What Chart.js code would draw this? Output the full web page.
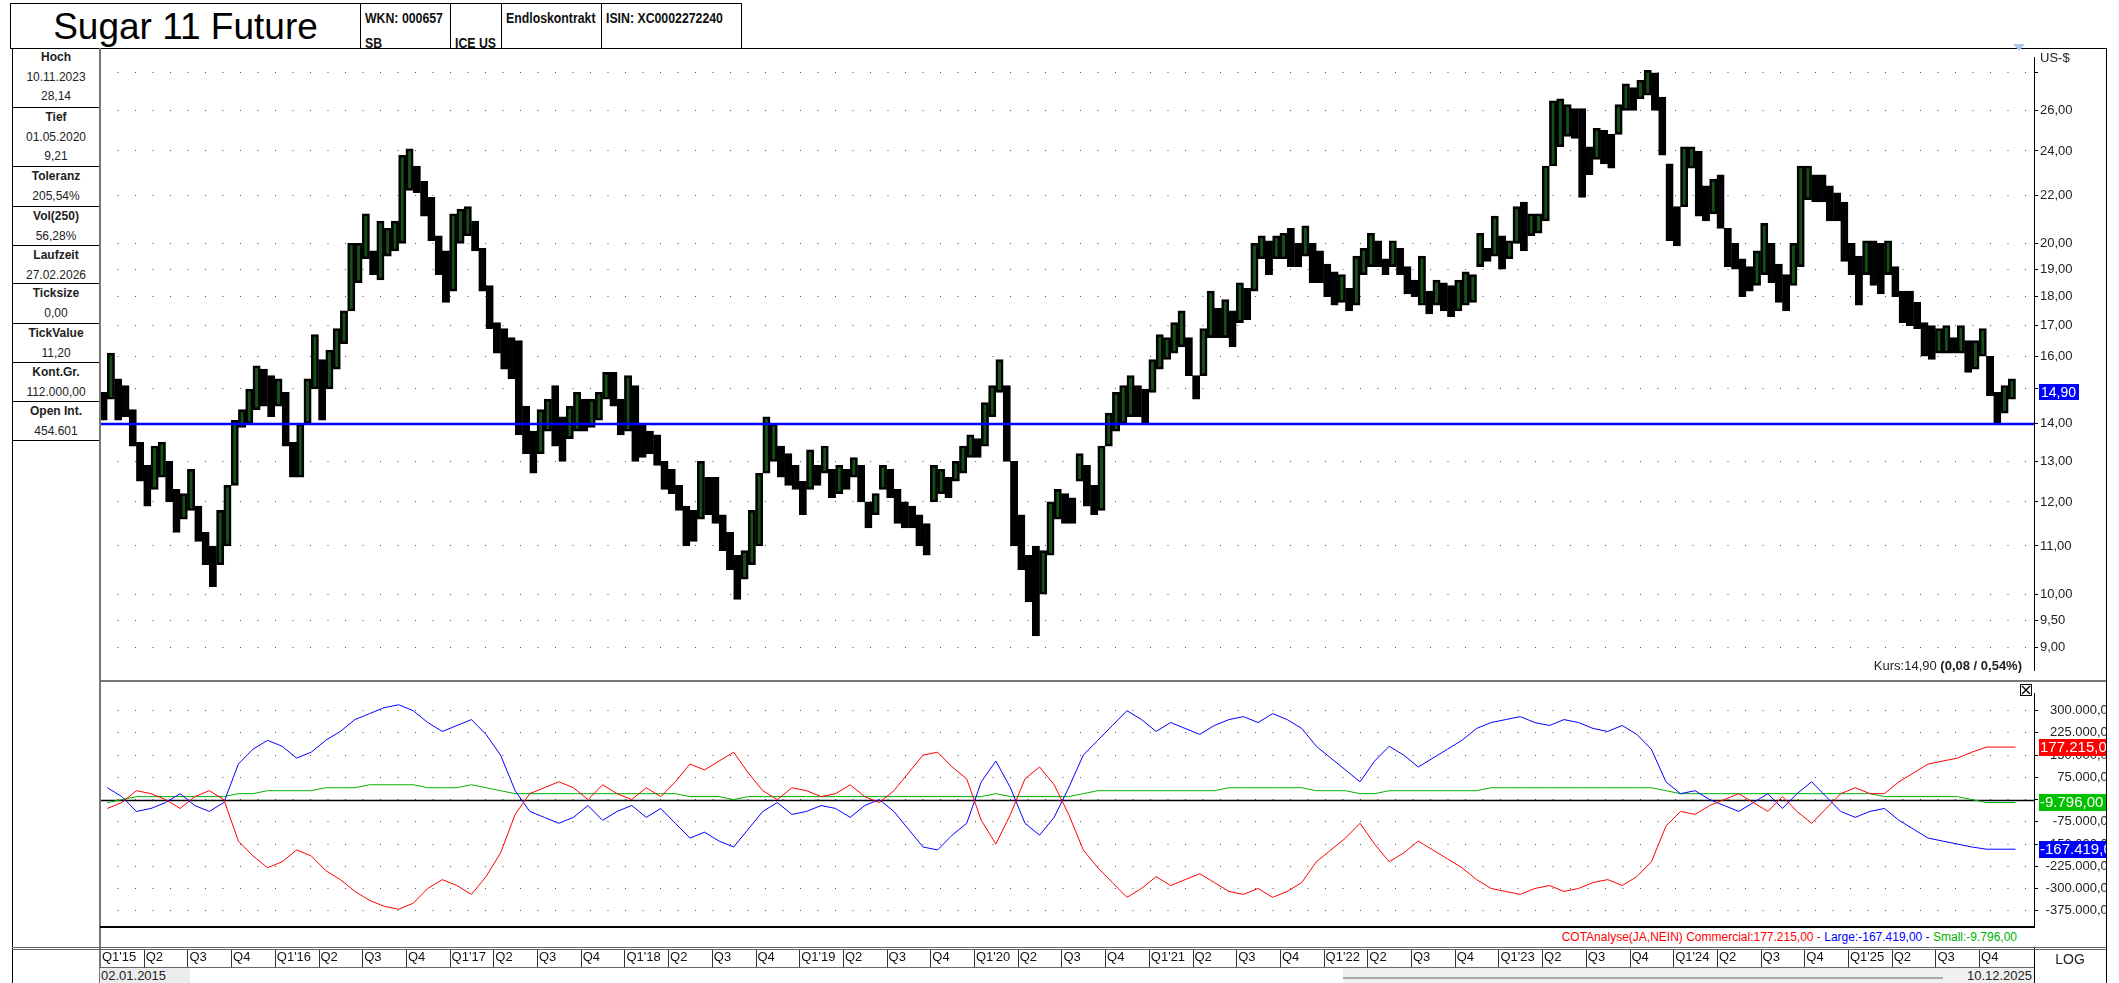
<!DOCTYPE html>
<html lang="de">
<head>
<meta charset="utf-8">
<title>Sugar 11 Future</title>
<script src="https://cdn.jsdelivr.net/npm/chart.js@4.4.1/dist/chart.umd.min.js"></script>
<style>
  html, body { margin: 0; padding: 0; }
  body { width: 2119px; height: 983px; position: relative; overflow: hidden; background: #fff;
         font-family: "Liberation Sans", Arial, sans-serif; color: #222; }
  .hl { position: absolute; height: 0; }
  .vl { position: absolute; width: 0; }
  .hdr { position: absolute; top: 4px; height: 45px; box-sizing: border-box; border-right: 1px solid #000; }
  .hdr span { position: absolute; left: 4px; font-weight: bold; font-size: 15px; white-space: nowrap;
              transform: scaleX(0.82); transform-origin: left top; color: #111; }
  .info { position: absolute; left: 12px; width: 88px; box-sizing: border-box; border-bottom: 1px solid #000;
          text-align: center; font-size: 12px; line-height: 19.6px; padding-top: 0; }
  canvas { position: absolute; left: 0; top: 0; }
</style>
</head>
<body>

<!-- header -->
<div class="hl" style="left:10px;width:732px;top:3px;border-top:1px solid #000"></div>
<div class="hdr" style="left:10px;width:351px;border-left:1px solid #000;font-size:37px;line-height:45px;text-align:center;color:#000">Sugar 11 Future</div>
<div class="hdr" style="left:361px;width:90px"><span style="top:5px">WKN: 000657</span><span style="top:30px">SB</span></div>
<div class="hdr" style="left:451px;width:51px"><span style="top:30px">ICE US</span></div>
<div class="hdr" style="left:502px;width:100px"><span style="top:5px">Endloskontrakt</span></div>
<div class="hdr" style="left:602px;width:140px"><span style="top:5px">ISIN: XC0002272240</span></div>
<div class="hl" style="left:10px;width:2096px;top:48px;border-top:1px solid #000"></div>

<!-- info column -->
<div class="vl" style="left:12px;top:48px;height:935px;border-left:1px solid #000"></div>
<div class="info" style="top:48px;height:60px"><b>Hoch</b><br>10.11.2023<br>28,14</div>
<div class="info" style="top:108px;height:59px"><b>Tief</b><br>01.05.2020<br>9,21</div>
<div class="info" style="top:167px;height:40px"><b>Toleranz</b><br>205,54%</div>
<div class="info" style="top:207px;height:39px"><b>Vol(250)</b><br>56,28%</div>
<div class="info" style="top:246px;height:38px"><b>Laufzeit</b><br>27.02.2026</div>
<div class="info" style="top:284px;height:40px"><b>Ticksize</b><br>0,00</div>
<div class="info" style="top:324px;height:39px"><b>TickValue</b><br>11,20</div>
<div class="info" style="top:363px;height:39px"><b>Kont.Gr.</b><br>112.000,00</div>
<div class="info" style="top:402px;height:39px"><b>Open Int.</b><br>454.601</div>

<!-- price panel -->
<div style="position:absolute;left:100px;top:48px;width:2006px;height:632px;overflow:hidden">
  <canvas id="priceChart" width="2006" height="632"></canvas>
</div>
<div style="position:absolute;left:2040px;top:50px;font-size:13px;color:#222">US-$</div>
<div style="position:absolute;left:2013px;top:44px;width:0;height:0;border-left:6px solid transparent;border-right:6px solid transparent;border-top:7px solid #a9c9ef"></div>
<div style="position:absolute;right:97px;top:658px;font-size:13px;color:#222;white-space:nowrap">Kurs:14,90 <b>(0,08 / 0,54%)</b></div>

<!-- COT panel + quarter axis -->
<div style="position:absolute;left:100px;top:683px;width:2006px;height:284px;overflow:hidden">
  <canvas id="cotChart" width="2015" height="284"></canvas>
</div>
<div style="position:absolute;left:2020px;top:684px;width:10px;height:10px;border:1px solid #000;background:#fff">
  <svg width="10" height="10" style="position:absolute;left:0;top:0"><path d="M1 1 L9 9 M9 1 L1 9" stroke="#000" stroke-width="1.4"/></svg>
</div>
<div style="position:absolute;left:100px;width:1934px;top:928px;height:19px;background:#fff"></div>
<div style="position:absolute;right:102px;top:930px;font-size:12px;white-space:nowrap">
  <span style="color:#ff0000">COTAnalyse(JA,NEIN) Commercial:177.215,00 - </span><span style="color:#0000ff">Large:-167.419,00 - </span><span style="color:#00b000">Small:-9.796,00</span>
</div>

<!-- frame lines -->
<div class="vl" style="left:99px;top:48px;height:935px;border-left:2px solid #777"></div>
<div class="vl" style="left:2034px;top:948px;height:35px;border-left:1px solid #000"></div>
<div class="vl" style="left:2106px;top:48px;height:935px;border-left:1px solid #000"></div>
<div class="hl" style="left:100px;width:2006px;top:680px;border-top:2px solid #777"></div>
<div class="hl" style="left:100px;width:1934px;top:926px;border-top:2px solid #000"></div>
<div class="hl" style="left:12px;width:2094px;top:947px;border-top:1px solid #666"></div>
<div class="hl" style="left:12px;width:2094px;top:949px;border-top:1px solid #666"></div>
<div class="hl" style="left:100px;width:1934px;top:967px;border-top:1px solid #666"></div>
<div style="position:absolute;left:2034px;width:72px;top:951px;text-align:center;font-size:14px;color:#222">LOG</div>

<!-- date row -->
<div style="position:absolute;left:100px;top:968px;width:90px;height:15px;background:#ececec"></div>
<div style="position:absolute;left:101px;top:968px;font-size:13px;color:#222">02.01.2015</div>
<div style="position:absolute;left:1343px;top:968px;width:691px;height:15px;background:#f0f0f0"></div>
<div style="position:absolute;left:1343px;top:977px;width:600px;height:0;border-top:2px solid #aaa"></div>
<div style="position:absolute;right:87px;top:968px;font-size:13px;color:#222">10.12.2025</div>

<script>
// ---- time axis: decimal years, semi-monthly price bars, monthly COT points ----
const xMin = 2015.0;
const xMax = 2026.064;

const quarterLabels = [
  "Q1'15", 'Q2', 'Q3', 'Q4', "Q1'16", 'Q2', 'Q3', 'Q4', "Q1'17", 'Q2', 'Q3', 'Q4',
  "Q1'18", 'Q2', 'Q3', 'Q4', "Q1'19", 'Q2', 'Q3', 'Q4', "Q1'20", 'Q2', 'Q3', 'Q4',
  "Q1'21", 'Q2', 'Q3', 'Q4', "Q1'22", 'Q2', 'Q3', 'Q4', "Q1'23", 'Q2', 'Q3', 'Q4',
  "Q1'24", 'Q2', 'Q3', 'Q4', "Q1'25", 'Q2', 'Q3', 'Q4'
];

// half-month low / high, Jan 2015 .. early Dec 2025 (US-$)
const priceLow = [
  14.1, 14.7, 14.1, 14.2, 13.4, 12.5, 11.9, 12.3, 12.6, 12.0, 11.3, 11.6, 11.8, 11.1, 10.6, 10.15, 10.6, 11.0, 12.4, 13.9, 14.0, 14.4, 14.5, 14.2,
  14.5, 13.4, 12.6, 12.6, 14.0, 15.0, 14.1, 15.0, 15.6, 16.4, 17.5, 18.5, 19.4, 18.8, 18.6, 19.5, 19.7, 20.0, 22.2, 22.1, 21.1, 20.1, 18.8, 17.8,
  18.2, 20.0, 20.3, 19.7, 18.2, 16.9, 16.1, 15.6, 15.3, 13.7, 13.2, 12.7, 13.2, 13.8, 13.4, 13.0, 13.6, 13.8, 13.8, 13.9, 14.1, 14.7, 14.5, 13.7,
  13.8, 13.0, 13.1, 13.2, 12.9, 12.3, 12.2, 11.8, 11.0, 11.1, 11.6, 11.7, 11.5, 10.9, 10.5, 9.9, 10.3, 10.6, 11.0, 12.7, 13.0, 12.6, 12.4, 12.3,
  11.7, 12.3, 12.4, 12.7, 12.1, 12.2, 12.3, 12.6, 12.0, 11.4, 11.7, 12.3, 12.1, 11.5, 11.4, 11.4, 11.0, 10.8, 12.0, 12.2, 12.1, 12.5, 12.7, 13.1,
  13.1, 13.4, 14.2, 14.9, 13.0, 11.0, 10.5, 9.85, 9.21, 10.0, 10.8, 11.6, 11.5, 11.5, 12.5, 11.9, 11.7, 11.8, 13.4, 13.8, 14.0, 14.2, 14.2, 14.0,
  14.9, 15.6, 15.9, 16.1, 16.3, 15.4, 14.7, 15.4, 16.6, 16.6, 16.6, 16.3, 17.1, 17.2, 18.2, 19.4, 18.8, 19.4, 19.4, 19.1, 19.1, 19.5, 18.5, 18.5,
  18.0, 17.7, 17.8, 17.5, 17.7, 18.8, 19.1, 19.1, 18.8, 19.1, 18.8, 18.1, 18.0, 17.7, 17.4, 17.7, 17.5, 17.3, 17.5, 17.7, 17.8, 19.1, 19.3, 19.5,
  19.0, 19.4, 20.0, 19.7, 20.3, 20.4, 20.9, 23.3, 24.2, 24.7, 24.6, 21.9, 22.9, 23.6, 23.4, 23.2, 24.8, 26.0, 26.0, 26.6, 26.8, 26.0, 23.8, 20.1,
  19.9, 21.5, 23.2, 21.1, 20.9, 21.2, 20.6, 19.1, 19.0, 18.0, 18.2, 18.4, 18.8, 18.5, 17.8, 17.5, 18.4, 19.1, 21.8, 21.7, 21.7, 20.9, 20.9, 19.3,
  18.8, 17.7, 18.8, 18.4, 18.1, 18.8, 18.0, 17.1, 17.0, 16.9, 16.0, 15.9, 16.1, 16.1, 16.1, 16.1, 15.5, 15.6, 16.0, 14.8, 14.0, 14.3, 14.7
];
const priceHigh = [
  14.9, 16.1, 15.3, 15.1, 14.4, 13.5, 12.9, 13.4, 13.5, 13.0, 12.3, 12.2, 12.8, 11.9, 11.3, 11.0, 11.8, 12.4, 14.1, 14.4, 15.0, 15.7, 15.6, 15.4,
  15.3, 14.9, 13.5, 14.0, 15.3, 16.7, 15.9, 16.2, 16.9, 17.5, 20.0, 20.0, 21.2, 19.7, 20.9, 20.6, 20.9, 23.8, 24.1, 23.3, 22.6, 21.9, 20.3, 19.7,
  21.2, 21.4, 21.5, 20.9, 19.8, 18.4, 17.1, 16.9, 16.6, 16.5, 14.5, 13.8, 14.4, 14.7, 15.1, 14.2, 14.5, 14.9, 14.7, 14.7, 14.9, 15.5, 15.5, 14.7,
  15.4, 15.1, 14.0, 13.8, 13.7, 13.0, 12.8, 12.4, 11.9, 11.8, 13.0, 12.6, 12.6, 11.7, 11.3, 10.8, 10.9, 11.8, 12.7, 14.2, 14.0, 13.4, 13.2, 12.9,
  12.5, 13.3, 12.9, 13.4, 12.8, 12.9, 12.8, 13.1, 12.9, 12.0, 12.2, 12.9, 12.8, 12.3, 12.0, 11.9, 11.7, 11.5, 12.9, 12.8, 12.6, 13.0, 13.4, 13.7,
  13.6, 14.6, 15.1, 15.9, 15.1, 13.0, 11.7, 10.8, 11.0, 10.9, 12.0, 12.3, 12.2, 12.1, 13.2, 12.9, 12.4, 13.4, 14.3, 14.9, 15.1, 15.4, 15.1, 15.0,
  15.9, 16.7, 16.6, 17.1, 17.5, 16.6, 15.4, 16.9, 18.2, 17.6, 17.9, 17.5, 18.5, 18.3, 20.0, 20.3, 20.1, 20.3, 20.4, 20.6, 20.0, 20.7, 20.0, 19.7,
  19.2, 18.9, 18.8, 18.3, 19.5, 19.8, 20.4, 20.1, 19.4, 20.1, 19.8, 19.1, 18.6, 19.5, 18.2, 18.6, 18.5, 18.4, 18.6, 18.9, 18.8, 20.4, 19.8, 21.1,
  20.3, 20.1, 21.5, 21.7, 21.2, 21.2, 23.3, 26.5, 26.6, 26.3, 26.1, 26.1, 24.2, 25.1, 25.0, 24.8, 26.3, 27.4, 27.2, 27.6, 28.14, 28.0, 26.7, 23.4,
  21.5, 24.2, 24.2, 24.0, 22.4, 22.7, 22.9, 20.6, 20.0, 19.4, 19.1, 19.7, 20.8, 20.0, 19.2, 18.8, 20.0, 23.3, 23.3, 22.9, 22.9, 22.4, 22.1, 21.7,
  20.0, 19.5, 20.1, 20.1, 20.0, 20.1, 19.1, 18.2, 18.2, 17.8, 17.1, 17.0, 16.9, 17.0, 16.6, 17.0, 16.5, 16.5, 16.9, 16.0, 14.9, 15.1, 15.3
];
const lastPrice = 14.90;
const supportLevel = 14.00;
const priceTicks = [9, 9.5, 10, 11, 12, 13, 14, 15, 16, 17, 18, 19, 20, 22, 24, 26, 28];

// COT net positions, monthly, Jan 2015 .. Dec 2025
const cotCommercial = [
  -30000, -10000, 30000, 20000, 0, -30000, 10000, 30000, 0, -140000, -190000, -230000,
  -210000, -170000, -190000, -240000, -270000, -310000, -340000, -360000, -370000, -350000, -300000, -270000,
  -290000, -320000, -260000, -180000, -50000, 20000, 40000, 60000, 40000, 0, 50000, 20000,
  0, 40000, 10000, 60000, 120000, 100000, 130000, 160000, 90000, 30000, 0, 40000,
  30000, 10000, 20000, 50000, 10000, -10000, 30000, 90000, 150000, 160000, 110000, 70000,
  -70000, -150000, -50000, 70000, 110000, 50000, -50000, -170000, -230000, -280000, -330000, -300000,
  -260000, -290000, -270000, -250000, -280000, -310000, -320000, -300000, -330000, -310000, -280000, -210000,
  -170000, -130000, -80000, -150000, -210000, -180000, -140000, -170000, -200000, -230000, -270000, -300000,
  -310000, -320000, -300000, -290000, -310000, -300000, -280000, -270000, -290000, -260000, -210000, -90000,
  -40000, -50000, -20000, 0, 20000, -10000, -40000, 10000, -40000, -80000, -30000, 20000,
  40000, 20000, 20000, 60000, 90000, 120000, 130000, 140000, 160000, 177215, 177215, 177215
];
const cotLarge = [
  40000, 10000, -40000, -30000, -10000, 20000, -20000, -40000, -10000, 120000, 170000, 200000,
  180000, 140000, 160000, 200000, 230000, 270000, 290000, 310000, 320000, 300000, 260000, 230000,
  250000, 270000, 220000, 150000, 30000, -40000, -60000, -80000, -60000, -20000, -70000, -40000,
  -20000, -60000, -30000, -80000, -130000, -110000, -140000, -160000, -100000, -40000, -10000, -50000,
  -40000, -20000, -30000, -60000, -20000, 0, -40000, -100000, -160000, -170000, -120000, -80000,
  60000, 130000, 40000, -80000, -120000, -60000, 40000, 150000, 200000, 250000, 300000, 270000,
  230000, 260000, 240000, 220000, 250000, 270000, 280000, 260000, 290000, 270000, 240000, 180000,
  140000, 100000, 60000, 130000, 180000, 150000, 110000, 140000, 170000, 200000, 240000, 260000,
  270000, 280000, 260000, 250000, 270000, 260000, 240000, 230000, 250000, 220000, 170000, 60000,
  20000, 30000, 0, -20000, -40000, -10000, 20000, -30000, 20000, 60000, 10000, -40000,
  -60000, -40000, -30000, -70000, -100000, -130000, -140000, -150000, -160000, -167419, -167419, -167419
];
const cotSmall = [
  -10000, 0, 10000, 10000, 10000, 10000, 10000, 10000, 10000, 20000, 20000, 30000,
  30000, 30000, 30000, 40000, 40000, 40000, 50000, 50000, 50000, 50000, 40000, 40000,
  40000, 50000, 40000, 30000, 20000, 20000, 20000, 20000, 20000, 20000, 20000, 20000,
  20000, 20000, 20000, 20000, 10000, 10000, 10000, 0, 10000, 10000, 10000, 10000,
  10000, 10000, 10000, 10000, 10000, 10000, 10000, 10000, 10000, 10000, 10000, 10000,
  10000, 20000, 10000, 10000, 10000, 10000, 10000, 20000, 30000, 30000, 30000, 30000,
  30000, 30000, 30000, 30000, 30000, 40000, 40000, 40000, 40000, 40000, 40000, 30000,
  30000, 30000, 20000, 20000, 30000, 30000, 30000, 30000, 30000, 30000, 30000, 40000,
  40000, 40000, 40000, 40000, 40000, 40000, 40000, 40000, 40000, 40000, 40000, 30000,
  20000, 20000, 20000, 20000, 20000, 20000, 20000, 20000, 20000, 20000, 20000, 20000,
  20000, 20000, 10000, 10000, 10000, 10000, 10000, 10000, 0, -9796, -9796, -9796
];
const cotTicks = [300000, 225000, 150000, 75000, 0, -75000, -150000, -225000, -300000, -375000];

function fmtDe(v) {
  const neg = v < 0;
  let [i, d] = Math.abs(v).toFixed(2).split('.');
  i = i.replace(/\B(?=(\d{3})+(?!\d))/g, '.');
  return (neg ? '-' : '') + i + ',' + d;
}

Chart.defaults.font.family = '"Liberation Sans", Arial, sans-serif';
Chart.defaults.color = '#222';

const dotted = [1, 16.5];

const priceDecor = {
  id: 'priceDecor',
  afterDatasetsDraw(chart) {
    const { ctx, chartArea, scales: { y } } = chart;
    const py = y.getPixelForValue(supportLevel);
    ctx.save();
    ctx.strokeStyle = '#0000ff';
    ctx.lineWidth = 2.5;
    ctx.beginPath();
    ctx.moveTo(chartArea.left, py);
    ctx.lineTo(chartArea.right, py);
    ctx.stroke();
    ctx.restore();
  },
  afterDraw(chart) {
    const { ctx, chartArea, scales: { y } } = chart;
    const ty = Math.round(y.getPixelForValue(lastPrice));
    ctx.save();
    ctx.fillStyle = '#0000ff';
    ctx.fillRect(chartArea.right + 5, ty - 8, 40, 16);
    ctx.fillStyle = '#fff';
    ctx.font = '14px "Liberation Sans", Arial, sans-serif';
    ctx.textBaseline = 'middle';
    ctx.fillText(fmtDe(lastPrice), chartArea.right + 7, ty + 1);
    ctx.restore();
  }
};

new Chart(document.getElementById('priceChart'), {
  type: 'bar',
  data: {
    datasets: [{
      data: priceLow.map((lo, k) => ({ x: xMin + (k + 0.5) / 24, y: [lo, priceHigh[k]] })),
      backgroundColor: (c) => {
        const k = c.dataIndex;
        return k > 0 && priceLow[k] + priceHigh[k] > priceLow[k - 1] + priceHigh[k - 1] ? '#164f16' : '#000';
      },
      borderColor: '#000',
      borderWidth: 2.6,
      borderSkipped: false,
      barPercentage: 1,
      categoryPercentage: 1
    }]
  },
  options: {
    responsive: false,
    animation: false,
    events: [],
    layout: { padding: 0 },
    plugins: { legend: { display: false }, tooltip: { enabled: false } },
    scales: {
      x: { type: 'linear', min: xMin, max: xMax, offset: false, display: false },
      y: {
        type: 'logarithmic', position: 'right', min: 8.607, max: 28.85,
        afterBuildTicks: (s) => { s.ticks = priceTicks.map((v) => ({ value: v })); },
        afterFit: (s) => { s.width = 72; },
        ticks: {
          autoSkip: false, padding: 2, color: '#222', font: { size: 13 },
          callback: (v) => (v === 28 ? '' : fmtDe(v))
        },
        grid: { color: '#555', lineWidth: 1, tickLength: 4, tickColor: '#000' },
        border: { display: true, color: '#000', width: 1, dash: dotted }
      }
    }
  },
  plugins: [priceDecor]
});

const cotLast = [
  { value: cotCommercial[cotCommercial.length - 1], color: '#ff0000' },
  { value: cotSmall[cotSmall.length - 1], color: '#00c000' },
  { value: cotLarge[cotLarge.length - 1], color: '#0000ff' }
];

const cotDecor = {
  id: 'cotDecor',
  beforeDatasetsDraw(chart) {
    const { ctx, chartArea, scales: { y } } = chart;
    const zy = Math.round(y.getPixelForValue(0)) + 0.5;
    ctx.save();
    ctx.strokeStyle = '#000';
    ctx.lineWidth = 1.5;
    ctx.beginPath();
    ctx.moveTo(chartArea.left, zy);
    ctx.lineTo(chartArea.right, zy);
    ctx.stroke();
    ctx.restore();
  },
  afterDraw(chart) {
    const { ctx, chartArea, scales: { x, y } } = chart;
    ctx.save();
    ctx.font = '15px "Liberation Sans", Arial, sans-serif';
    ctx.textBaseline = 'middle';
    cotLast.forEach((t) => {
      const ty = Math.round(y.getPixelForValue(t.value));
      ctx.fillStyle = t.color;
      ctx.fillRect(chartArea.right + 5, ty - 8, 80, 17);
      ctx.fillStyle = '#fff';
      ctx.fillText(fmtDe(t.value), chartArea.right + 6, ty + 1);
    });
    // quarter separators in the axis row
    ctx.strokeStyle = '#333';
    ctx.lineWidth = 1;
    x.ticks.forEach((t) => {
      const px = Math.round(x.getPixelForValue(t.value)) + 0.5;
      ctx.beginPath();
      ctx.moveTo(px, chart.height - 18);
      ctx.lineTo(px, chart.height);
      ctx.stroke();
    });
    ctx.restore();
  }
};

const cotX = (m) => xMin + (m + 0.5) / 12;

new Chart(document.getElementById('cotChart'), {
  type: 'line',
  data: {
    datasets: [
      { label: 'Commercial', data: cotCommercial.map((v, m) => ({ x: cotX(m), y: v })), borderColor: '#ff0000' },
      { label: 'Large', data: cotLarge.map((v, m) => ({ x: cotX(m), y: v })), borderColor: '#0000ff' },
      { label: 'Small', data: cotSmall.map((v, m) => ({ x: cotX(m), y: v })), borderColor: '#00b000' }
    ]
  },
  options: {
    responsive: false,
    animation: false,
    events: [],
    layout: { padding: 0 },
    elements: { line: { borderWidth: 1, tension: 0 }, point: { radius: 0 } },
    plugins: { legend: { display: false }, tooltip: { enabled: false } },
    scales: {
      x: {
        type: 'linear', min: xMin, max: xMax, offset: false, position: 'bottom',
        afterBuildTicks: (s) => { s.ticks = quarterLabels.map((l, i) => ({ value: xMin + i * 0.25 })); },
        afterFit: (s) => { s.height = 40; },
        ticks: {
          autoSkip: false, maxRotation: 0, minRotation: 0, align: 'start', labelOffset: 2, padding: 0,
          color: '#111', font: { size: 13 },
          callback: (v, i) => quarterLabels[i]
        },
        grid: { drawOnChartArea: false, drawTicks: true, tickLength: 23, tickColor: 'rgba(0,0,0,0)' },
        border: { display: false }
      },
      y: {
        type: 'linear', position: 'right', min: -430000, max: 357000,
        afterBuildTicks: (s) => { s.ticks = cotTicks.map((v) => ({ value: v })); },
        afterFit: (s) => { s.width = 81; },
        ticks: { autoSkip: false, crossAlign: 'far', padding: 3, color: '#222', font: { size: 13 }, callback: (v) => fmtDe(v) },
        grid: { color: '#555', lineWidth: 1, tickLength: 4, tickColor: '#000' },
        border: { display: true, color: '#000', width: 1, dash: dotted }
      }
    }
  },
  plugins: [cotDecor]
});
</script>
</body>
</html>
